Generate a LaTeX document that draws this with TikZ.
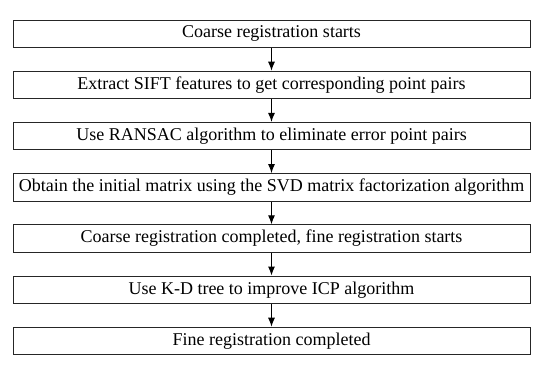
\documentclass[tikz,border=0pt]{standalone}
\usepackage{fontspec}
\setmainfont{Liberation Serif}
\usetikzlibrary{arrows.meta}
\begin{document}
\begin{tikzpicture}[x=1pt,y=-1pt,
  stepbox/.style={draw=black!85,line width=1pt,minimum width=517pt,minimum height=27.5pt,inner sep=0pt,font=\fontsize{18}{21}\selectfont,anchor=north},
  conn/.style={line width=1pt,-{Latex[length=9pt,width=7pt]}}]
\useasboundingbox (0,0) rectangle (550,376);
\node[stepbox] (b1) at (271.5,19.5) {Coarse registration starts};
\node[stepbox] (b2) at (271.5,70.7) {Extract SIFT features to get corresponding point pairs};
\node[stepbox] (b3) at (271.5,121.9) {Use RANSAC algorithm to eliminate error point pairs};
\node[stepbox] (b4) at (271.5,173.1) {Obtain the initial matrix using the SVD matrix factorization algorithm};
\node[stepbox] (b5) at (271.5,224.3) {Coarse registration completed, fine registration starts};
\node[stepbox] (b6) at (271.5,275.5) {Use K-D tree to improve ICP algorithm};
\node[stepbox] (b7) at (271.5,326.7) {Fine registration completed};
\foreach \a/\b in {b1/b2,b2/b3,b3/b4,b4/b5,b5/b6,b6/b7}
  \draw[conn] (\a.south) -- (\b.north);
\end{tikzpicture}
\end{document}
